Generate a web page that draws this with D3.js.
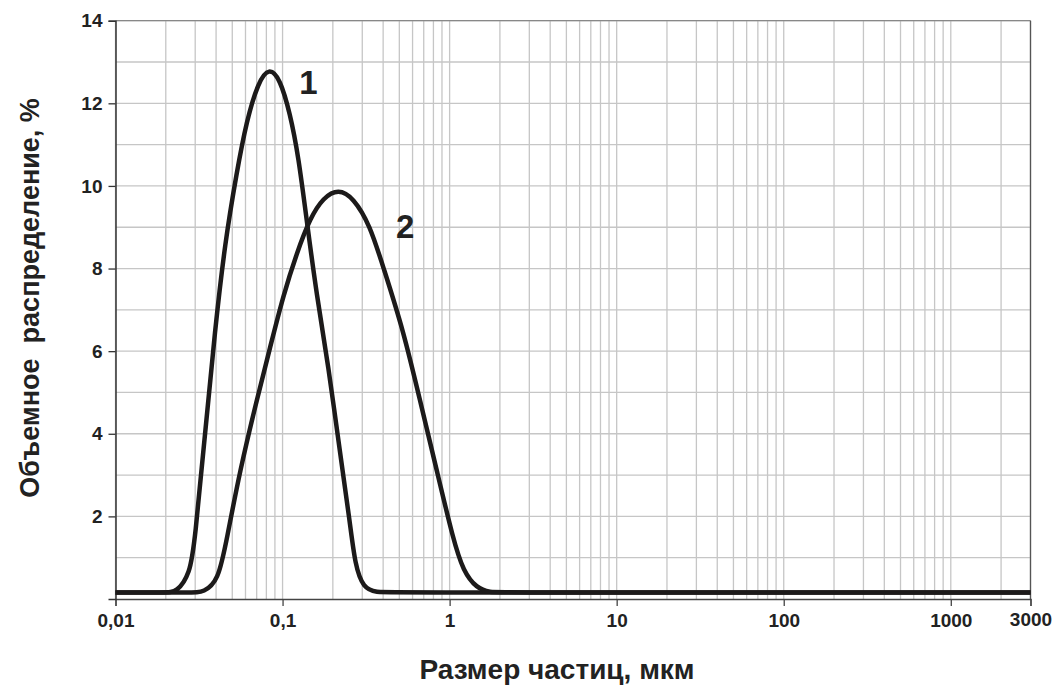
<!DOCTYPE html>
<html>
<head>
<meta charset="utf-8">
<script src="https://cdn.jsdelivr.net/npm/d3@7"></script>
<style>
  body { margin: 0; background: #fff; }
  text { font-family: "Liberation Sans", Arial, sans-serif; font-weight: bold; fill: #222; }
</style>
</head>
<body>
<div id="chart"></div>
<script>
// particle size, um  /  volume share, %
var size1 = [0.01, 0.02, 0.0232, 0.0279, 0.0299, 0.0343, 0.0394, 0.0452, 0.0531, 0.061, 0.0716, 0.083, 0.0965, 0.1108, 0.1243, 0.1407, 0.1601, 0.1879, 0.2207, 0.2533, 0.2714, 0.3043, 0.366, 0.45, 3000];
var vol1  = [0.16, 0.16, 0.16, 0.6, 1.43, 3.97, 6.51, 8.62, 10.32, 11.59, 12.52, 12.87, 12.6, 11.76, 10.74, 9.05, 7.35, 5.66, 3.54, 1.85, 0.83, 0.26, 0.16, 0.16, 0.16];

var size2 = [0.01, 0.029, 0.0336, 0.0412, 0.0463, 0.0556, 0.07, 0.0841, 0.101, 0.1215, 0.146, 0.1754, 0.2157, 0.2651, 0.3338, 0.4009, 0.528, 0.6647, 0.837, 1.052, 1.2075, 1.4527, 1.745, 2.1, 3000];
var vol2  = [0.16, 0.16, 0.16, 0.43, 1.43, 3.12, 4.81, 6.08, 7.35, 8.37, 9.22, 9.72, 9.93, 9.72, 9.05, 8.03, 6.51, 4.81, 3.12, 1.43, 0.67, 0.26, 0.16, 0.16, 0.16];

var xTicks = [0.01, 0.1, 1, 10, 100, 1000, 3000];
var xTickLabels = ["0,01", "0,1", "1", "10", "100", "1000", "3000"];
var yTicks = [2, 4, 6, 8, 10, 12, 14];

var curveLabels = ["1", "2"];
var labelSize = [0.1426, 0.4775];
var labelVol = [12.22, 8.75];

var width = 1062, height = 685;
var plotL = 115.5, plotR = 1030.5, plotT = 20.7, plotB = 599;

var svg = d3.select("#chart").append("svg")
    .attr("width", width)
    .attr("height", height);

var x = d3.scaleLog().domain([0.01, 3000]).range([plotL, plotR]);
var y = d3.scaleLinear().domain([0, 14]).range([plotB, plotT]);

// grid
var vgrid = [];
[0.01, 0.1, 1, 10, 100, 1000].forEach(function (d) {
    for (var k = 1; k <= 9; k++) {
        if (d * k <= 3000) vgrid.push(d * k);
    }
});
svg.append("g").selectAll("line")
    .data(vgrid)
    .enter().append("line")
    .attr("x1", function (d) { return x(d); })
    .attr("x2", function (d) { return x(d); })
    .attr("y1", plotT)
    .attr("y2", plotB)
    .style("stroke", "#c6c6c6")
    .style("stroke-width", 1.3);

svg.append("g").selectAll("line")
    .data(d3.range(1, 15))
    .enter().append("line")
    .attr("x1", plotL)
    .attr("x2", plotR)
    .attr("y1", function (d) { return y(d); })
    .attr("y2", function (d) { return y(d); })
    .style("stroke", "#c6c6c6")
    .style("stroke-width", 1.3);

// frame
svg.append("line").attr("x1", plotL).attr("x2", plotR).attr("y1", plotT).attr("y2", plotT)
    .style("stroke", "#888").style("stroke-width", 1.3);
svg.append("line").attr("x1", plotR).attr("x2", plotR).attr("y1", plotT).attr("y2", plotB)
    .style("stroke", "#555").style("stroke-width", 1.3);

// axes
var xAxis = d3.axisBottom(x).tickValues(xTicks)
    .tickFormat(function (d, i) { return xTickLabels[i]; })
    .tickSizeOuter(0).tickSize(7).tickPadding(8);
var gx = svg.append("g").attr("transform", "translate(0," + plotB + ")").call(xAxis);
gx.select(".domain").style("stroke", "#444").style("stroke-width", 1.3);
gx.selectAll(".tick line").style("stroke", "#444").style("stroke-width", 1.3);
gx.selectAll("text").style("font-size", "19px").style("font-family", "Liberation Sans, Arial, sans-serif").attr("fill", "#222");
gx.selectAll(".tick").filter(function (d) { return d === 3000; }).select("text").attr("dy", "0.62em");

var yAxis = d3.axisLeft(y).tickValues(yTicks).tickSizeOuter(0).tickSize(7).tickPadding(6);
var gy = svg.append("g").attr("transform", "translate(" + plotL + ",0)").call(yAxis);
gy.select(".domain").style("stroke", "#333").style("stroke-width", 1.5);
gy.selectAll(".tick line").style("stroke", "#333").style("stroke-width", 1.3);
gy.selectAll("text").style("font-size", "19px").style("font-family", "Liberation Sans, Arial, sans-serif").attr("fill", "#222");

// curves
var line = d3.line()
    .x(function (d) { return x(d[0]); })
    .y(function (d) { return y(d[1]); })
    .curve(d3.curveBasis);

[[size1, vol1], [size2, vol2]].forEach(function (s) {
    svg.append("path")
        .datum(d3.zip(s[0], s[1]))
        .attr("d", line)
        .style("fill", "none")
        .style("stroke", "#1c1a1a")
        .style("stroke-width", 4.5)
        .style("stroke-linejoin", "round");
});

svg.append("g").selectAll("text")
    .data(curveLabels)
    .enter().append("text")
    .attr("x", function (d, i) { return x(labelSize[i]); })
    .attr("y", function (d, i) { return y(labelVol[i]); })
    .attr("text-anchor", function (d, i) { return i === 0 ? "middle" : "start"; })
    .style("font-size", "33px")
    .text(function (d) { return d; });

// titles
svg.append("text")
    .attr("x", 557)
    .attr("y", 679)
    .attr("text-anchor", "middle")
    .style("font-size", "28px")
    .text("Размер частиц, мкм");

svg.append("text")
    .attr("transform", "translate(39,298) rotate(-90)")
    .attr("text-anchor", "middle")
    .style("font-size", "27px")
    .style("white-space", "pre")
    .attr("xml:space", "preserve")
    .text("Объемное  распределение, %");
</script>
</body>
</html>
